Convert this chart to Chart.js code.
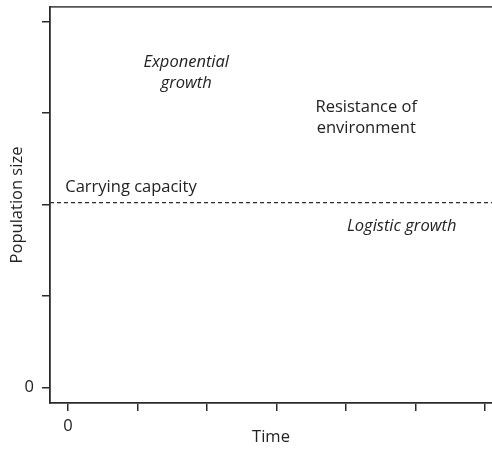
<!DOCTYPE html>
<html>
<head>
<meta charset="utf-8">
<script src="https://cdn.jsdelivr.net/npm/chart.js@4"></script>
<style>
  body { margin: 0; background: #fff; }
  #grafico { display: block; }
</style>
</head>
<body>
<canvas id="grafico" width="492" height="449"></canvas>
<script>
// datos del gráfico
const timeTicks = [0, 1, 2, 3, 4, 5, 6];
const timeTickLabels = ['0', '', '', '', '', '', ''];
const sizeTicks = [0, 1, 2, 3, 4];
const sizeTickLabels = ['0', '', '', '', ''];
const lineTime = [-0.26, 6.1];
const carryingCapacity = [2.02, 2.02];

// textos dentro del gráfico (en unidades de datos)
const notas = [
  { lines: ['Exponential', 'growth'], x: 1.70, y: 3.55, italic: true, align: 'center' },
  { lines: ['Resistance of', 'environment'], x: 4.29, y: 3.06, italic: false, align: 'center' },
  { lines: ['Carrying capacity'], x: -0.04, y: 2.19, italic: false, align: 'left' },
  { lines: ['Logistic growth'], x: 4.80, y: 1.76, italic: true, align: 'center' }
];

const ink = '#2b2b2b';
const fuente = 16.5;
Chart.defaults.font.family = "'Open Sans', sans-serif";
Chart.defaults.font.size = fuente;
Chart.defaults.color = '#222';

const notasPlugin = {
  id: 'notas',
  afterDatasetsDraw(chart) {
    const { ctx, scales } = chart;
    ctx.save();
    ctx.fillStyle = '#222';
    ctx.textBaseline = 'middle';
    notas.forEach(n => {
      ctx.font = (n.italic ? 'italic ' : '') + fuente + "px 'Open Sans', sans-serif";
      ctx.textAlign = n.align;
      const px = scales.x.getPixelForValue(n.x);
      const py = scales.y.getPixelForValue(n.y);
      n.lines.forEach((t, i) => ctx.fillText(t, px, py + i * 21));
    });
    ctx.restore();
  }
};

new Chart(document.getElementById('grafico').getContext('2d'), {
  type: 'line',
  data: {
    datasets: [{
      label: 'Carrying capacity',
      data: lineTime.map((t, i) => ({ x: t, y: carryingCapacity[i] })),
      borderColor: ink,
      borderWidth: 1.2,
      borderDash: [4, 3],
      pointRadius: 0,
      fill: false
    }]
  },
  options: {
    responsive: false,
    animation: false,
    layout: { padding: { top: 7, right: 0, left: 0, bottom: 0 } },
    plugins: { legend: { display: false }, tooltip: { enabled: false } },
    scales: {
      x: {
        type: 'linear',
        min: lineTime[0],
        max: lineTime[1],
        afterBuildTicks: s => { s.ticks = timeTicks.map(v => ({ value: v })); },
        afterFit: s => { s.height = 46; s.paddingLeft = 0; s.paddingRight = 0; },
        ticks: {
          padding: 5,
          maxRotation: 0,
          callback: (v, i) => timeTickLabels[i]
        },
        grid: { drawOnChartArea: false, tickLength: 8, color: ink, lineWidth: 1.5 },
        border: { color: ink, width: 1.8 },
        title: { display: true, text: 'Time', padding: { top: 0, bottom: 2 } }
      },
      xTop: {
        type: 'linear',
        position: 'top',
        min: 0,
        max: 1,
        afterFit: s => { s.height = 0; s.paddingLeft = 0; s.paddingRight = 0; },
        ticks: { display: false },
        grid: { display: false },
        border: { color: '#555', width: 1.8 }
      },
      y: {
        type: 'linear',
        min: -0.17,
        max: 4.16,
        afterBuildTicks: s => { s.ticks = sizeTicks.map(v => ({ value: v })); },
        afterFit: s => { s.width = 50; s.paddingTop = 0; s.paddingBottom = 0; },
        ticks: {
          padding: 8,
          callback: (v, i) => sizeTickLabels[i]
        },
        grid: { drawOnChartArea: false, tickLength: 8, color: ink, lineWidth: 1.5 },
        border: { color: ink, width: 1.8 },
        title: { display: true, text: 'Population size', padding: { top: 7, bottom: 0 } }
      }
    }
  },
  plugins: [notasPlugin]
});
</script>
</body>
</html>
